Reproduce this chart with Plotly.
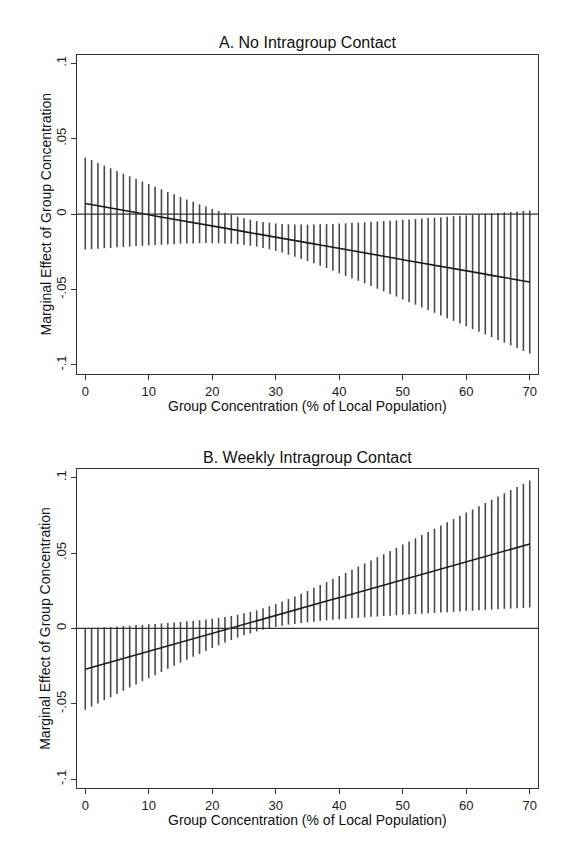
import plotly.graph_objects as go

# ---------------- data ----------------
group_concentration = list(range(0, 71))

effect_no_contact = [
    0.0070, 0.0063, 0.0055, 0.0048, 0.0040, 0.0033, 0.0025, 0.0018, 0.0011, 0.0003,
    -0.0004, -0.0012, -0.0019, -0.0027, -0.0034, -0.0041, -0.0049, -0.0056, -0.0064, -0.0071,
    -0.0079, -0.0086, -0.0093, -0.0101, -0.0108, -0.0116, -0.0123, -0.0131, -0.0138, -0.0145,
    -0.0153, -0.0160, -0.0168, -0.0175, -0.0183, -0.0190, -0.0197, -0.0205, -0.0212, -0.0220,
    -0.0227, -0.0235, -0.0242, -0.0249, -0.0257, -0.0264, -0.0272, -0.0279, -0.0287, -0.0294,
    -0.0302, -0.0309, -0.0316, -0.0324, -0.0331, -0.0339, -0.0346, -0.0354, -0.0361, -0.0368,
    -0.0376, -0.0383, -0.0391, -0.0398, -0.0406, -0.0413, -0.0420, -0.0428, -0.0435, -0.0443,
    -0.0450,
]
ci_half_no_contact = [
    0.0305, 0.0295, 0.0284, 0.0274, 0.0264, 0.0253, 0.0243, 0.0233, 0.0223, 0.0213,
    0.0203, 0.0193, 0.0184, 0.0174, 0.0165, 0.0155, 0.0146, 0.0138, 0.0129, 0.0121,
    0.0114, 0.0107, 0.0101, 0.0095, 0.0091, 0.0088, 0.0086, 0.0085, 0.0086, 0.0088,
    0.0091, 0.0095, 0.0101, 0.0107, 0.0114, 0.0121, 0.0129, 0.0138, 0.0146, 0.0155,
    0.0165, 0.0174, 0.0184, 0.0193, 0.0203, 0.0213, 0.0223, 0.0233, 0.0243, 0.0253,
    0.0264, 0.0274, 0.0284, 0.0295, 0.0305, 0.0315, 0.0326, 0.0336, 0.0347, 0.0357,
    0.0368, 0.0379, 0.0389, 0.0400, 0.0410, 0.0421, 0.0432, 0.0442, 0.0453, 0.0464,
    0.0474,
]

effect_weekly_contact = [
    -0.0270, -0.0258, -0.0246, -0.0234, -0.0223, -0.0211, -0.0199, -0.0187, -0.0175, -0.0163,
    -0.0151, -0.0140, -0.0128, -0.0116, -0.0104, -0.0092, -0.0080, -0.0068, -0.0057, -0.0045,
    -0.0033, -0.0021, -0.0009, 0.0003, 0.0015, 0.0027, 0.0038, 0.0050, 0.0062, 0.0074,
    0.0086, 0.0098, 0.0110, 0.0121, 0.0133, 0.0145, 0.0157, 0.0169, 0.0181, 0.0193,
    0.0204, 0.0216, 0.0228, 0.0240, 0.0252, 0.0264, 0.0276, 0.0287, 0.0299, 0.0311,
    0.0323, 0.0335, 0.0347, 0.0359, 0.0370, 0.0382, 0.0394, 0.0406, 0.0418, 0.0430,
    0.0442, 0.0453, 0.0465, 0.0477, 0.0489, 0.0501, 0.0513, 0.0525, 0.0536, 0.0548,
    0.0560,
]
ci_half_weekly_contact = [
    0.0270, 0.0261, 0.0251, 0.0242, 0.0233, 0.0224, 0.0215, 0.0205, 0.0197, 0.0187,
    0.0179, 0.0170, 0.0161, 0.0152, 0.0144, 0.0135, 0.0127, 0.0119, 0.0112, 0.0104,
    0.0097, 0.0091, 0.0085, 0.0080, 0.0076, 0.0073, 0.0071, 0.0070, 0.0071, 0.0073,
    0.0076, 0.0080, 0.0085, 0.0091, 0.0097, 0.0104, 0.0112, 0.0119, 0.0127, 0.0135,
    0.0144, 0.0152, 0.0161, 0.0170, 0.0179, 0.0187, 0.0197, 0.0205, 0.0215, 0.0224,
    0.0233, 0.0242, 0.0251, 0.0261, 0.0270, 0.0279, 0.0289, 0.0298, 0.0308, 0.0317,
    0.0326, 0.0336, 0.0345, 0.0355, 0.0364, 0.0374, 0.0383, 0.0393, 0.0402, 0.0412,
    0.0421,
]

x_tick_vals = [0, 10, 20, 30, 40, 50, 60, 70]
y_tick_vals = [-0.1, -0.05, 0, 0.05, 0.1]
y_tick_text = ["-.1", "-.05", "0", ".05", ".1"]

panel_titles = ["A. No Intragroup Contact", "B. Weekly Intragroup Contact"]
x_title = "Group Concentration (% of Local Population)"
y_title = "Marginal Effect of Group Concentration"

# ---------------- figure ----------------
W, H = 582, 854
FONT = "Liberation Sans, Arial, Helvetica, sans-serif"
x_dom = [77 / W, 538 / W]
y_doms = [[1 - 374 / H, 1 - 55 / H], [1 - 788.3 / H, 1 - 469.3 / H]]

fig = go.Figure()

panels = [
    (effect_no_contact, ci_half_no_contact),
    (effect_weekly_contact, ci_half_weekly_contact),
]

for i, (est, half) in enumerate(panels):
    xa = "x" if i == 0 else "x2"
    ya = "y" if i == 0 else "y2"
    # CI spikes
    fig.add_trace(go.Scatter(
        x=group_concentration, y=est, mode="markers",
        marker=dict(size=1, color="rgba(0,0,0,0)"),
        error_y=dict(type="data", array=half, symmetric=True,
                     color="#4a4a4a", thickness=1.6, width=0),
        xaxis=xa, yaxis=ya, showlegend=False, hoverinfo="skip",
    ))
    # estimate line
    fig.add_trace(go.Scatter(
        x=group_concentration, y=est, mode="lines",
        line=dict(color="#1a1a1a", width=1.6),
        xaxis=xa, yaxis=ya, showlegend=False,
    ))

axis_common = dict(
    showline=True, linecolor="#333333", linewidth=1, mirror=True,
    ticks="outside", ticklen=5, tickcolor="#333333", tickwidth=1,
    showgrid=False, zeroline=False,
    tickfont=dict(family=FONT, size=13, color="#1a1a1a"),
)

fig.update_layout(
    width=W, height=H,
    margin=dict(l=0, r=0, t=0, b=0),
    paper_bgcolor="white", plot_bgcolor="white",
    xaxis=dict(domain=x_dom, anchor="y", range=[-1.3, 71.3],
               tickvals=x_tick_vals, **axis_common),
    yaxis=dict(domain=y_doms[0], anchor="x", range=[-0.106, 0.1055],
               tickvals=y_tick_vals, ticktext=y_tick_text, tickangle=-90,
               **axis_common),
    xaxis2=dict(domain=x_dom, anchor="y2", range=[-1.3, 71.3],
                tickvals=x_tick_vals, **axis_common),
    yaxis2=dict(domain=y_doms[1], anchor="x2", range=[-0.106, 0.1055],
                tickvals=y_tick_vals, ticktext=y_tick_text, tickangle=-90,
                **axis_common),
)

# zero reference lines
for xr, yr in [("x domain", "y"), ("x2 domain", "y2")]:
    fig.add_shape(type="line", xref=xr, yref=yr, x0=0, x1=1, y0=0, y1=0,
                  line=dict(color="#333333", width=1.2))

# titles and axis titles
title_y = [1 - 43 / H, 1 - 457 / H]
xtitle_y = [1 - 406 / H, 1 - 820 / H]
for i in range(2):
    fig.add_annotation(text=panel_titles[i], xref="paper", yref="paper",
                       x=(x_dom[0] + x_dom[1]) / 2, y=title_y[i],
                       showarrow=False, xanchor="center", yanchor="middle",
                       font=dict(family=FONT, size=16, color="#111111"))
    fig.add_annotation(text=x_title, xref="paper", yref="paper",
                       x=(x_dom[0] + x_dom[1]) / 2, y=xtitle_y[i],
                       showarrow=False, xanchor="center", yanchor="middle",
                       font=dict(family=FONT, size=14, color="#111111"))
    fig.add_annotation(text=y_title, xref="paper", yref="paper",
                       x=45 / W, y=(y_doms[i][0] + y_doms[i][1]) / 2,
                       showarrow=False, xanchor="center", yanchor="middle",
                       textangle=-90,
                       font=dict(family=FONT, size=14, color="#111111"))

fig.write_html(
    "out.html",
    config={"displayModeBar": False},
    post_script="document.body.style.margin='0';document.body.style.overflow='hidden';",
)
